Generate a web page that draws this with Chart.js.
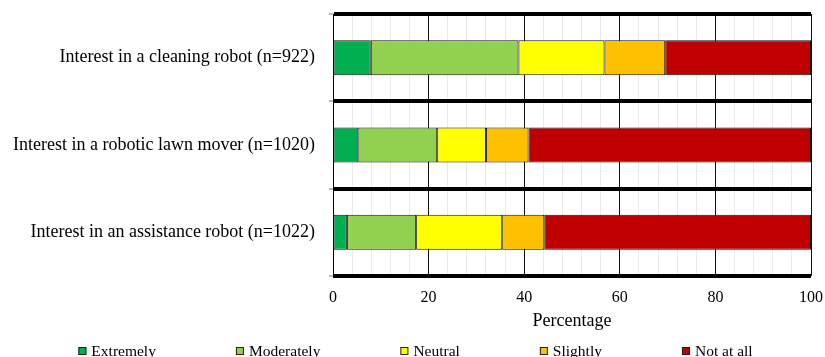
<!DOCTYPE html>
<html>
<head>
<meta charset="utf-8">
<script src="https://cdn.jsdelivr.net/npm/chart.js@4"></script>
<style>
  html, body { margin: 0; padding: 0; background: #fff; }
  #wrap { width: 825px; height: 357px; }
</style>
</head>
<body>
<div id="wrap"><canvas id="chart" width="825" height="357"></canvas></div>
<script>
// Survey: interest in three kinds of robots (percent of respondents)
const categories = [
  'Interest in a cleaning robot (n=922)',
  'Interest in a robotic lawn mover (n=1020)',
  'Interest in an assistance robot (n=1022)'
];
const extremely  = [7.9, 5.3, 2.9];
const moderately = [30.9, 16.5, 14.5];
const neutral    = [18.0, 10.2, 18.0];
const slightly   = [12.7, 8.9, 8.8];
const notAtAll   = [30.5, 59.1, 55.8];

const seriesNames = ['Extremely', 'Moderately', 'Neutral', 'Slightly', 'Not at all'];
const seriesColors = ['#00B050', '#92D050', '#FFFF00', '#FFC000', '#C00000'];
const seriesValues = [extremely, moderately, neutral, slightly, notAtAll];

const xTickMin = 0;
const xTickMax = 100;
const xMinorStep = 4;
const xMajorStep = 20;

const FONT = '"Liberation Serif", "Times New Roman", serif';

// Legend drawn in one row under the axis title
const bottomLegend = {
  id: 'bottomLegend',
  afterDraw(chart) {
    const ctx = chart.ctx;
    ctx.save();
    ctx.font = '15.5px ' + FONT;
    const box = 8, gap = 5, spacing = 80;
    const items = chart.data.datasets.map(ds => ({
      label: ds.label,
      color: ds.backgroundColor,
      w: ctx.measureText(ds.label).width
    }));
    const total = items.reduce((s, it) => s + box + gap + it.w, 0) + spacing * (items.length - 1);
    let x = (chart.width - total) / 2 + 3;
    const baseY = 356;
    ctx.textBaseline = 'alphabetic';
    ctx.textAlign = 'left';
    items.forEach(it => {
      ctx.fillStyle = it.color;
      ctx.fillRect(x, 347, box, box);
      ctx.strokeStyle = '#222';
      ctx.lineWidth = 1;
      ctx.strokeRect(x + 0.5, 347.5, box - 1, box - 1);
      ctx.fillStyle = '#000';
      ctx.fillText(it.label, x + box + gap, baseY);
      x += box + gap + it.w + spacing;
    });
    ctx.restore();
  }
};

new Chart(document.getElementById('chart'), {
  type: 'bar',
  data: {
    labels: categories,
    datasets: seriesNames.map((name, i) => ({
      label: name,
      data: seriesValues[i],
      backgroundColor: seriesColors[i],
      borderColor: '#111',
      borderWidth: 1,
      borderSkipped: false,
      barPercentage: 0.4,
      categoryPercentage: 1.0
    }))
  },
  options: {
    indexAxis: 'y',
    responsive: false,
    animation: false,
    layout: { padding: { top: 14, right: 14, bottom: 25, left: 0 } },
    plugins: {
      legend: { display: false },
      tooltip: { enabled: false }
    },
    scales: {
      x: {
        stacked: true,
        min: xTickMin,
        max: xTickMax,
        ticks: {
          stepSize: xMinorStep,
          autoSkip: false,
          maxRotation: 0,
          padding: 12,
          color: '#000',
          font: { family: FONT, size: 16 },
          callback: v => (v % xMajorStep === 0 ? v : '')
        },
        grid: {
          drawTicks: false,
          lineWidth: 1,
          color: c => (c.tick && c.tick.value % xMajorStep === 0 ? '#111' : '#ebebeb')
        },
        border: { display: false },
        title: {
          display: true,
          text: 'Percentage',
          color: '#000',
          font: { family: FONT, size: 18, lineHeight: 1.2 },
          padding: 0
        },
        afterFit: s => {
          s.height = 56;
          s.paddingLeft = 0;
          s.paddingRight = 0;
        }
      },
      y: {
        stacked: true,
        ticks: {
          padding: 14,
          color: '#000',
          font: { family: FONT, size: 18 }
        },
        grid: {
          offset: true,
          color: '#000',
          lineWidth: 4,
          tickLength: 4,
          tickColor: '#777',
          tickWidth: 1
        },
        border: { display: true, color: '#000', width: 1 },
        afterFit: s => {
          s.width = 333;
          s.paddingTop = 0;
          s.paddingBottom = 0;
        }
      }
    }
  },
  plugins: [bottomLegend]
});
</script>
</body>
</html>
